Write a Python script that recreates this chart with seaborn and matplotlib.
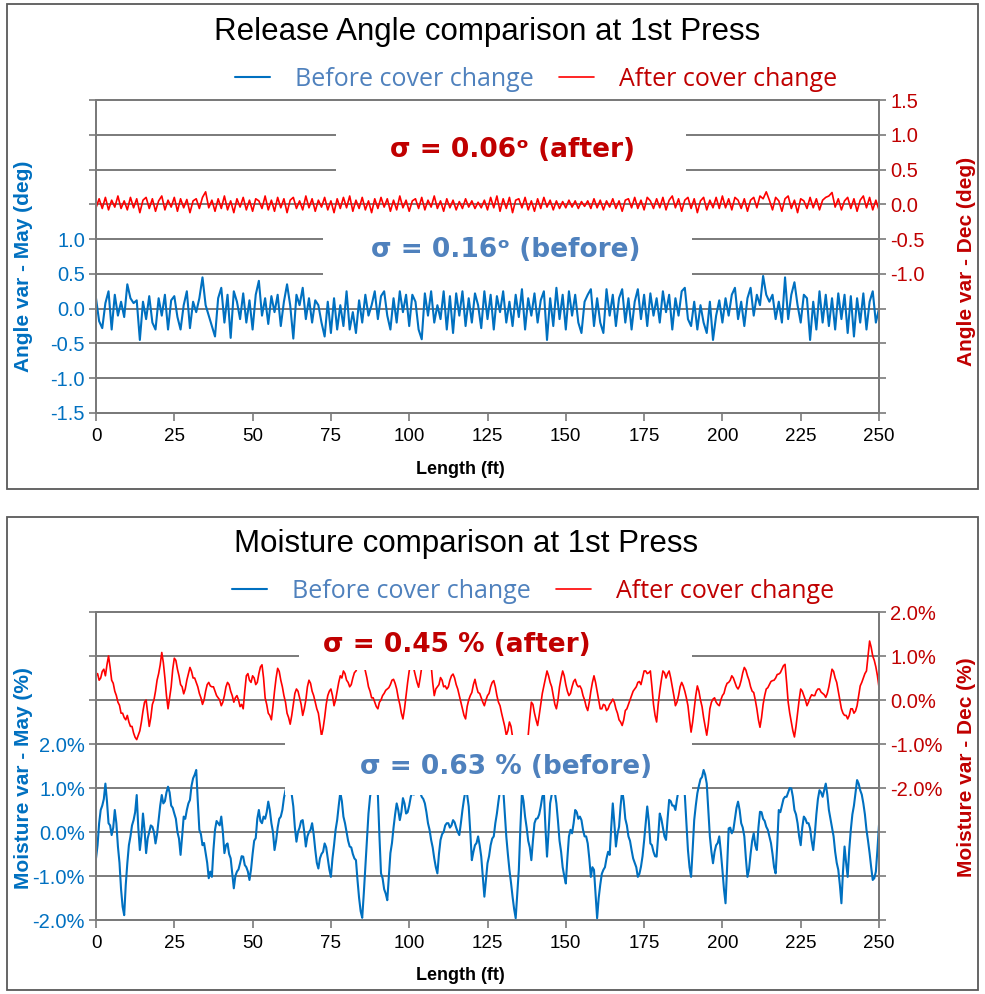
import numpy as np
import pandas as pd
import matplotlib
matplotlib.use('Agg')
import matplotlib.pyplot as plt
from matplotlib.patches import Rectangle
from matplotlib.ticker import FuncFormatter
import seaborn as sns

#%% data
length_ft = np.arange(0, 251)          # angle chart, 1 ft steps
length_half = np.arange(0, 250.5, 0.5)  # moisture chart, 0.5 ft steps

angle_before = [
    0.15, -0.18, -0.28, 0.08, 0.25, -0.3, 0.2, -0.1, 0.1, -0.12,
    0.35, 0.15, 0.08, 0.12, -0.45, 0.1, -0.15, 0.18, -0.2, -0.3,
    0.15, -0.1, 0.2, -0.3, 0.12, 0.18, -0.12, -0.3, 0.05, 0.25,
    -0.28, 0.1, -0.05, 0.15, 0.45, 0.05, -0.1, -0.25, -0.4, 0.15,
    0.3, -0.2, 0.2, -0.42, 0.25, 0.1, -0.15, 0.22, -0.2, 0.12,
    -0.3, 0.2, 0.4, -0.1, 0.15, -0.22, 0.18, -0.05, 0.2, -0.25,
    0.1, 0.35, 0.05, -0.43, 0.2, 0.05, 0.3, -0.15, 0.15, -0.2,
    0.12, 0.05, -0.2, -0.4, 0.1, -0.35, 0.15, -0.3, 0.05, -0.25,
    0.25, -0.3, -0.05, -0.35, 0.12, -0.2, 0.2, -0.1, 0.05, 0.25,
    -0.15, 0.18, 0.25, -0.1, -0.3, 0.15, -0.2, 0.25, -0.05, 0.2,
    -0.25, 0.2, 0.1, -0.3, -0.44, 0.22, -0.1, 0.25, -0.2, 0.05,
    -0.15, 0.25, -0.3, 0.18, -0.35, 0.22, -0.1, 0.25, -0.25, 0.15,
    -0.2, 0.22, 0.05, -0.28, 0.25, -0.15, 0.2, -0.3, 0.18, -0.05,
    0.25, -0.2, 0.1, -0.25, 0.2, -0.12, 0.28, -0.3, 0.15, -0.1,
    0.22, -0.2, 0.12, 0.25, -0.45, 0.15, -0.25, 0.3, -0.15, 0.2,
    -0.3, 0.25, -0.1, 0.2, -0.2, -0.35, 0.1, 0.2, 0.28, -0.25,
    0.15, -0.2, -0.35, 0.28, -0.1, 0.2, -0.25, 0.15, 0.28, -0.2,
    0.15, -0.3, 0.1, 0.28, -0.15, 0.2, -0.25, 0.22, -0.1, 0.15,
    -0.2, 0.25, -0.05, 0.2, -0.3, 0.15, -0.1, 0.25, 0.3, -0.15,
    -0.25, 0.1, -0.3, 0.05, -0.2, -0.35, 0.1, -0.45, -0.1, 0.12,
    -0.2, 0.15, -0.1, 0.2, 0.3, -0.15, 0.1, -0.25, 0.15, 0.3,
    -0.1, 0.2, 0.05, 0.47, 0.2, 0.1, 0.2, -0.15, 0.1, -0.2,
    0.45, -0.15, 0.2, 0.38, 0.05, -0.2, 0.2, 0.15, -0.45, 0.1,
    -0.3, 0.25, -0.2, 0.2, -0.25, 0.15, -0.3, 0.22, -0.15, 0.2,
    -0.35, 0.18, -0.4, 0.15, -0.2, 0.22, -0.3, 0.1, 0.25, -0.2,
    0.0]

angle_after = [
    -0.05, 0.08, -0.06, 0.1, -0.08, 0.06, -0.04, 0.12, -0.06, 0.05,
    -0.08, 0.1, -0.05, 0.08, -0.12, 0.06, 0.1, -0.06, 0.08, -0.1,
    0.05, 0.12, -0.08, 0.06, -0.04, 0.1, -0.1, 0.08, -0.05, 0.07,
    -0.12, 0.05, 0.08, -0.06, 0.1, 0.18, -0.05, 0.06, -0.1, 0.08,
    -0.06, 0.12, -0.08, 0.05, -0.12, 0.08, -0.04, 0.1, -0.08, 0.06,
    -0.1, 0.08, 0.05, -0.06, 0.12, -0.08, 0.06, -0.1, 0.1, -0.05,
    0.08, -0.12, 0.06, 0.1, -0.06, 0.05, -0.08, 0.12, -0.05, 0.08,
    -0.1, 0.06, -0.04, 0.1, -0.08, 0.05, -0.12, 0.08, -0.06, 0.1,
    -0.05, 0.12, -0.1, 0.06, -0.06, 0.1, -0.08, 0.05, -0.12, 0.08,
    -0.06, 0.1, -0.04, 0.08, -0.1, 0.06, -0.08, 0.12, -0.05, 0.06,
    -0.1, 0.05, 0.08, -0.06, 0.1, -0.08, 0.06, -0.04, 0.12, -0.06,
    0.05, -0.1, 0.08, -0.05, 0.06, -0.08, 0.04, -0.06, 0.08, -0.04,
    0.05, -0.06, 0.03, -0.05, 0.06, -0.08, 0.1, -0.05, 0.12, -0.1,
    0.08, -0.06, 0.1, -0.12, 0.06, 0.08, -0.05, 0.1, -0.08, 0.05,
    -0.1, 0.08, -0.06, 0.1, -0.04, 0.06, -0.08, 0.05, -0.06, 0.04,
    -0.05, 0.06, -0.04, 0.05, -0.06, 0.04, -0.03, 0.05, -0.06, 0.08,
    -0.05, 0.06, -0.08, 0.05, -0.04, 0.08, -0.06, 0.05, -0.1, 0.06,
    0.08, -0.05, 0.1, -0.06, 0.06, -0.08, 0.1, 0.05, -0.06, 0.08,
    -0.05, 0.1, -0.08, 0.06, 0.12, -0.05, 0.08, -0.1, 0.06, 0.1,
    -0.06, 0.08, -0.12, 0.05, 0.1, -0.08, 0.06, -0.05, 0.1, -0.06,
    0.12, -0.05, 0.08, -0.08, 0.1, 0.06, -0.06, 0.08, -0.1, 0.06,
    0.1, -0.05, 0.12, 0.08, 0.18, 0.06, -0.08, 0.1, 0.05, -0.1,
    0.08, 0.12, -0.06, 0.06, -0.12, 0.08, 0.05, -0.06, 0.1, -0.05,
    0.08, -0.08, 0.06, 0.1, 0.12, 0.17, -0.04, 0.08, -0.08, 0.05,
    0.1, -0.06, 0.08, -0.1, 0.06, 0.12, -0.05, 0.1, -0.08, 0.06,
    -0.08]

# moisture, values at whole feet
moist_before = [
    -0.6, 0.2, 0.6, 1.1, 0.2, -0.07, 0.5, -0.33, -1.3, -1.89,
    -0.71, -0.1, 0.27, 0.84, -0.41, 0.42, -0.48, 0.0, 0.12, -0.26,
    0.27, 0.84, 0.7, 1.03, 0.6, 0.42, 0.0, -0.52, 0.35, 0.5,
    0.73, 1.22, 1.41, 0.05, -0.3, -0.48, -1.05, -1.02, 0.05, 0.2,
    0.35, -0.48, -0.26, -0.6, -1.28, -0.9, -0.71, -0.56, -0.8, -1.09,
    -0.5, -0.14, 0.5, 0.2, 0.3, 0.69, 0.2, -0.41, 0.1, 0.35,
    0.77, 1.0, 0.95, 0.58, -0.22, 0.1, 0.27, -0.33, 0.0, 0.2,
    -0.4, -0.83, -0.5, -0.26, -0.6, -1.02, -0.3, 0.27, 0.9, 0.35,
    0.0, -0.33, -0.5, -0.64, -1.5, -1.95, -0.79, 0.42, 1.0, 0.95,
    0.84, -0.94, -1.3, -1.55, -0.48, 0.1, 0.65, 0.27, 0.77, 0.42,
    0.6, 0.9, 0.95, 0.88, 0.8, 0.65, 0.2, -0.18, -0.6, -0.94,
    -0.18, 0.0, 0.2, 0.1, 0.27, 0.1, -0.07, 0.5, 0.95, 0.58,
    -0.64, -0.3, -0.1, -0.56, -1.47, -0.71, -0.3, -0.1, 0.42, 0.95,
    1.0, -0.1, -0.86, -1.47, -1.96, -0.86, 0.9, 0.35, -0.2, -0.64,
    0.2, 0.31, 0.58, 0.9, -0.56, 0.65, 0.95, 0.65, -0.2, -0.8,
    -1.17, -0.1, -0.03, 0.5, 0.3, 0.27, -0.1, -0.26, -1.02, -0.86,
    -1.96, -1.2, -0.86, -0.6, -0.52, 0.65, -0.33, 0.12, 0.95, 0.3,
    -0.1, -0.41, -0.7, -1.02, -0.79, -0.2, 0.58, -0.26, -0.45, -0.56,
    0.42, 0.1, -0.18, 0.73, 0.6, 0.5, 0.95, 1.0, 0.84, -0.41,
    -1.02, 0.27, 0.88, 1.2, 1.41, 1.1, -0.1, -0.71, -0.3, -0.1,
    -0.86, -1.62, 0.08, -0.03, 0.3, 0.69, 0.2, -0.1, -1.02, -0.5,
    -0.03, -0.41, 0.46, 0.3, 0.12, -0.1, -0.5, -0.94, 0.5, 0.6,
    0.8, 0.9, 0.99, 0.5, 0.2, -0.3, 0.35, 0.2, 0.08, -0.41,
    0.4, 0.95, 0.8, 1.1, 0.5, 0.1, -0.45, -0.86, -1.62, -0.33,
    -1.02, 0.05, 0.6, 1.18, 0.95, 0.65, 0.05, -0.48, -1.09, -0.9,
    0.16]

# moisture, values at the half feet in between
moist_before_mid = [
    -0.3, 0.5, 0.75, 0.7, 0.15, 0.1, 0.2, -0.7, -1.7, -1.2,
    -0.3, 0.15, 0.45, 0.1, -0.1, 0.05, -0.15, 0.15, 0.0, -0.05,
    0.6, 0.65, 0.9, 0.9, 0.55, 0.3, -0.15, -0.1, 0.3, 0.65,
    1.05, 1.3, 0.7, -0.05, -0.25, -0.7, -0.9, -0.4, 0.25, 0.15,
    0.0, -0.3, -0.5, -0.95, -1.0, -0.85, -0.55, -0.75, -0.9, -0.85,
    -0.2, 0.3, 0.25, 0.35, 0.45, 0.5, 0.0, -0.2, 0.3, 0.5,
    0.95, 1.05, 0.85, 0.1, 0.0, 0.25, 0.0, -0.1, 0.05, -0.05,
    -0.7, -0.6, -0.45, -0.35, -0.85, -0.6, 0.05, 0.6, 0.7, 0.2,
    -0.2, -0.35, -0.6, -1.1, -1.8, -1.4, -0.2, 0.8, 1.05, 0.9,
    -0.1, -1.05, -1.4, -1.0, -0.25, 0.4, 0.5, 0.45, 0.65, 0.45,
    0.8, 0.85, 0.98, 0.9, 0.75, 0.45, 0.05, -0.35, -0.8, -0.5,
    -0.05, 0.15, 0.2, 0.15, 0.22, 0.0, 0.2, 0.75, 0.85, 0.0,
    -0.45, -0.25, -0.3, -1.0, -1.1, -0.55, -0.15, 0.2, 0.7, 1.05,
    0.45, -0.5, -1.15, -1.75, -1.4, 0.1, 0.7, 0.1, -0.35, -0.2,
    0.3, 0.4, 0.8, 0.1, 0.0, 0.85, 0.9, 0.25, -0.45, -1.0,
    -0.6, 0.05, 0.2, 0.45, 0.35, 0.05, -0.1, -0.6, -0.8, -1.4,
    -1.5, -0.95, -0.8, -0.45, 0.1, 0.2, -0.05, 0.6, 0.7, 0.15,
    -0.2, -0.6, -0.8, -0.95, -0.55, 0.2, 0.25, -0.3, -0.55, -0.1,
    0.3, -0.1, 0.3, 0.7, 0.6, 0.75, 0.9, 0.95, 0.2, -0.8,
    -0.4, 0.6, 1.05, 1.25, 1.3, 0.5, -0.45, -0.45, -0.25, -0.45,
    -1.3, -0.8, 0.1, 0.05, 0.55, 0.5, 0.1, -0.6, -0.85, -0.2,
    -0.3, 0.1, 0.45, 0.25, 0.05, -0.25, -0.8, -0.3, 0.45, 0.75,
    0.8, 1.0, 0.8, 0.4, -0.1, 0.1, 0.3, 0.2, -0.2, -0.05,
    0.75, 0.9, 0.95, 0.85, 0.3, -0.1, -0.7, -1.2, -0.9, -0.7,
    -0.4, 0.4, 0.9, 1.1, 0.85, 0.4, -0.2, -0.8, -1.05, -0.4]

moist_after = [
    0.55, 0.45, 0.65, 0.55, 1.0, 0.45, 0.2, -0.05, -0.3, -0.4,
    -0.35, -0.6, -0.75, -0.9, -0.7, -0.25, 0.0, -0.6, -0.1, 0.2,
    0.6, 1.08, 0.5, -0.2, 0.3, 0.95, 0.7, 0.35, 0.14, 0.45,
    0.74, 0.5, 0.4, 0.15, -0.1, 0.2, 0.4, 0.3, 0.2, 0.05,
    -0.13, 0.1, 0.4, 0.2, -0.05, 0.1, -0.15, -0.2, 0.55, 0.45,
    0.55, 0.35, 0.6, 0.8, 0.05, -0.3, -0.45, 0.2, 0.72, 0.45,
    0.1, -0.3, -0.55, -0.1, 0.25, 0.05, -0.35, 0.0, 0.45, 0.2,
    -0.05, -0.3, -0.82, -0.4, 0.1, 0.25, -0.13, 0.2, 0.55, 0.66,
    0.45, 0.3, 0.5, 0.66, 0.85, 0.9, 0.66, 0.3, 0.05, -0.05,
    -0.2, 0.0, 0.15, 0.25, 0.35, 0.47, 0.25, -0.1, -0.43, 0.1,
    0.66, 0.85, 0.55, 0.29, 0.75, 0.9, 0.95, 0.8, 0.1, 0.3,
    0.51, 0.3, 0.25, 0.45, 0.59, 0.35, 0.1, -0.2, -0.43, 0.0,
    0.17, 0.47, 0.17, 0.05, -0.13, 0.1, 0.3, 0.44, 0.1, -0.13,
    -0.45, -0.8, -0.5, -0.84, -1.0, -1.1, -1.0, -0.9, -0.8, -0.05,
    -0.3, -0.58, -0.1, 0.32, 0.66, 0.4, 0.1, -0.2, 0.3, 0.66,
    0.35, 0.1, 0.3, 0.47, 0.3, 0.25, 0.0, -0.24, 0.2, 0.55,
    0.2, -0.2, -0.1, -0.24, -0.1, 0.02, -0.2, -0.45, -0.58, -0.24,
    -0.1, 0.1, 0.25, 0.4, 0.35, 0.66, 0.6, 0.66, -0.1, -0.5,
    0.2, 0.66, 0.5, 0.66, 0.3, -0.13, 0.1, 0.4, 0.2, -0.13,
    -0.73, -0.2, 0.32, 0.0, -0.4, -0.8, -0.2, 0.02, -0.05, -0.13,
    0.1, 0.29, 0.4, 0.55, 0.4, 0.25, 0.45, 0.74, 0.55, 0.3,
    0.17, -0.2, -0.62, -0.1, 0.25, 0.35, 0.44, 0.5, 0.59, 0.7,
    0.81, -0.05, -0.5, -0.84, -0.3, 0.25, 0.1, -0.13, 0.05, 0.1,
    0.2, 0.25, 0.15, 0.06, 0.3, 0.7, 0.5, 0.2, -0.2, -0.35,
    -0.43, -0.2, -0.3, -0.13, 0.32, 0.5, 0.66, 1.34, 1.0, 0.75,
    0.29]

moist_after_mid = [
    0.6, 0.5, 0.7, 0.8, 0.75, 0.38, 0.1, -0.12, -0.3, -0.45,
    -0.5, -0.6, -0.85, -0.8, -0.5, -0.05, -0.3, -0.4, 0.0, 0.45,
    0.8, 0.85, 0.1, 0.05, 0.7, 0.9, 0.55, 0.3, 0.25, 0.6,
    0.65, 0.5, 0.3, 0.05, 0.0, 0.35, 0.32, 0.3, 0.1, 0.0,
    -0.05, 0.3, 0.35, 0.1, 0.05, 0.0, -0.1, 0.2, 0.6, 0.4,
    0.5, 0.4, 0.75, 0.5, -0.1, -0.35, -0.15, 0.5, 0.65, 0.3,
    -0.05, -0.4, -0.35, 0.15, 0.2, -0.1, -0.2, 0.3, 0.38, 0.1,
    -0.2, -0.55, -0.65, -0.1, 0.2, 0.1, 0.0, 0.4, 0.5, 0.6,
    0.4, 0.35, 0.62, 0.75, 0.95, 0.8, 0.5, 0.2, 0.05, -0.15,
    -0.05, 0.1, 0.22, 0.28, 0.45, 0.38, 0.05, -0.3, -0.2, 0.4,
    0.8, 0.7, 0.4, 0.5, 0.85, 0.88, 0.9, 0.4, 0.25, 0.35,
    0.45, 0.32, 0.3, 0.55, 0.5, 0.25, -0.05, -0.35, -0.15, 0.1,
    0.35, 0.3, 0.15, -0.05, 0.0, 0.15, 0.4, 0.3, -0.05, -0.3,
    -0.6, -0.7, -0.6, -0.95, -1.05, -1.1, -0.95, -0.9, -0.4, -0.1,
    -0.45, -0.35, 0.15, 0.5, 0.55, 0.3, -0.1, 0.0, 0.5, 0.55,
    0.2, 0.15, 0.42, 0.35, 0.32, 0.1, -0.15, -0.05, 0.4, 0.4,
    0.0, -0.2, -0.12, -0.2, -0.05, -0.05, -0.3, -0.5, -0.45, -0.2,
    0.0, 0.2, 0.3, 0.42, 0.5, 0.66, 0.62, 0.3, -0.35, -0.1,
    0.45, 0.62, 0.6, 0.5, 0.1, -0.05, 0.3, 0.32, 0.05, -0.45,
    -0.5, 0.1, 0.2, -0.15, -0.6, -0.55, -0.05, 0.05, -0.1, 0.0,
    0.15, 0.38, 0.45, 0.5, 0.3, 0.32, 0.62, 0.68, 0.45, 0.2,
    0.0, -0.45, -0.4, 0.1, 0.28, 0.42, 0.45, 0.58, 0.62, 0.78,
    0.4, -0.3, -0.7, -0.6, 0.0, 0.2, 0.0, -0.05, 0.12, 0.1,
    0.25, 0.18, 0.12, 0.15, 0.5, 0.65, 0.4, 0.0, -0.3, -0.35,
    -0.35, -0.2, -0.25, 0.1, 0.4, 0.6, 1.0, 1.2, 0.9, 0.55]


def interleave(whole, mid):
    out = np.empty(len(whole) + len(mid))
    out[0::2] = whole
    out[1::2] = mid
    return out


angle = pd.DataFrame({'length': length_ft, 'before': angle_before, 'after': angle_after})
moist = pd.DataFrame({'length': length_half,
                      'before': interleave(moist_before, moist_before_mid),
                      'after': interleave(moist_after, moist_after_mid)})

#%% style
sns.set_style('white')
plt.rcParams['font.family'] = ['Liberation Sans', 'DejaVu Sans']
plt.rcParams['text.color'] = 'black'
plt.rcParams['axes.labelcolor'] = 'black'

BLUE_LINE, RED_LINE = '#0070C0', '#FF0000'
BLUE_TXT, RED_TXT = '#4F81BD', '#C00000'
GRID = '#7A7A7A'

W, H = 985, 994
fig = plt.figure(figsize=(W / 100, H / 100), dpi=100)


def fx(x):
    return x / W


def fy(y):
    return 1 - y / H


def white_box(x0, y0, x1, y1):
    fig.add_artist(Rectangle((fx(x0), fy(y1)), (x1 - x0) / W, (y1 - y0) / H,
                             transform=fig.transFigure, facecolor='white',
                             edgecolor='none', zorder=2))


def fmt(lo, hi, pct):
    def f(v, pos):
        if v < lo - 1e-9 or v > hi + 1e-9:
            return ''
        return f'{v:.1f}%' if pct else f'{v:.1f}'
    return FuncFormatter(f)


def panel(df, top, bottom, lim_l, lim_r, step, show_l, show_r, pct,
          ylab_l, ylab_r, ylab_pos):
    ax = fig.add_axes([fx(96), fy(bottom), (879 - 96) / W, (bottom - top) / H])
    sns.lineplot(data=df, x='length', y='before', ax=ax, color=BLUE_LINE, lw=1.5,
                 label='Before cover change', legend=False)
    ax2 = ax.twinx()
    sns.lineplot(data=df, x='length', y='after', ax=ax2, color=RED_LINE, lw=1.2,
                 label='After cover change', legend=False)

    ax.set_xlim(0, 250)
    ax.set_xticks(range(0, 251, 25))
    ax.set_ylim(*lim_l)
    ax2.set_ylim(*lim_r)
    ax.set_yticks(np.arange(lim_l[0], lim_l[1] + step / 2, step))
    ax2.set_yticks(np.arange(lim_r[0], lim_r[1] + step / 2, step))
    ax.yaxis.set_major_formatter(fmt(*show_l, pct))
    ax2.yaxis.set_major_formatter(fmt(*show_r, pct))

    ax.yaxis.grid(True, color=GRID, lw=1.4)
    ax.xaxis.grid(False)
    ax2.grid(False)
    for a in (ax, ax2):
        for s in a.spines.values():
            s.set_visible(True)
            s.set_color(GRID)
            s.set_linewidth(1.4)
    ax.tick_params(axis='y', direction='out', left=True, length=5, width=1.2,
                   color=GRID, labelcolor=BLUE_LINE, labelsize=14.5, pad=3)
    ax2.tick_params(axis='y', direction='out', right=True, length=5, width=1.2,
                    color=GRID, labelcolor=RED_TXT, labelsize=14.5, pad=3)
    ax.tick_params(axis='x', direction='out', bottom=True, length=6, width=1.2,
                   color=GRID, labelcolor='black', labelsize=13.5, pad=5)

    ax.set_xlabel('Length (ft)', fontsize=13, fontweight='bold', va='center', color='black')
    ax.xaxis.set_label_coords(0.465, -0.179)
    ax.set_ylabel(ylab_l, color=BLUE_LINE, fontsize=15, fontweight='bold', va='center')
    ax.yaxis.set_label_coords(-0.092, ylab_pos[0])
    ax2.set_ylabel(ylab_r, color=RED_TXT, fontsize=15, fontweight='bold', va='center',
                   rotation=90)
    ax2.yaxis.set_label_coords(1.112, ylab_pos[1])
    return ax, ax2


def legend(ax, ax2, xc, yc):
    fig.legend([ax.lines[0], ax2.lines[0]], ['Before cover change', 'After cover change'],
               loc='center', bbox_to_anchor=(fx(xc), fy(yc)), ncol=2, frameon=False,
               labelcolor=[BLUE_TXT, RED_TXT], handlelength=1.4, handletextpad=1.0,
               columnspacing=1.0, prop={'family': 'Open Sans', 'size': 18})


def sigma(x, y, s, color):
    fig.text(fx(x), fy(y), s, ha='center', va='center', color=color, fontsize=19,
             fontweight='bold', family=['DejaVu Sans'], zorder=3)


#%% panel frames
for y0, y1 in [(4, 489), (517, 990)]:
    fig.add_artist(Rectangle((fx(7), fy(y1)), (978 - 7) / W, (y1 - y0) / H,
                             transform=fig.transFigure, fill=False,
                             edgecolor='#595959', lw=1.3, zorder=1))

#%% release angle
ax, ax2 = panel(angle, 100, 413, (-1.5, 3.0), (-3.0, 1.5), 0.5,
                (-1.5, 1.0), (-1.0, 1.5), False,
                'Angle var - May (deg)', 'Angle var - Dec (deg)', (0.47, 0.485))
fig.text(fx(487), fy(32), 'Release Angle comparison at 1st Press', ha='center',
         va='center', fontsize=22.5, color='black')
legend(ax, ax2, 536, 79)
white_box(336, 122, 686, 182)
white_box(323, 226, 692, 284)
sigma(512, 150, 'σ = 0.06ᵒ (after)', RED_TXT)
sigma(506, 250, 'σ = 0.16ᵒ (before)', BLUE_TXT)

#%% moisture
ax, ax2 = panel(moist, 612, 920, (-2, 5), (-5, 2), 1,
                (-2, 2), (-2, 2), True,
                'Moisture var - May (%)', 'Moisture var - Dec (%)', (0.461, 0.497))
fig.text(fx(466), fy(544), 'Moisture comparison at 1st Press', ha='center',
         va='center', fontsize=22.5, color='black')
legend(ax, ax2, 533, 591)
white_box(299, 622, 692, 670)
white_box(285, 735, 692, 795)
sigma(457, 645, 'σ = 0.45 % (after)', RED_TXT)
sigma(506, 767, 'σ = 0.63 % (before)', BLUE_TXT)

fig.savefig('out.png', dpi=100)
